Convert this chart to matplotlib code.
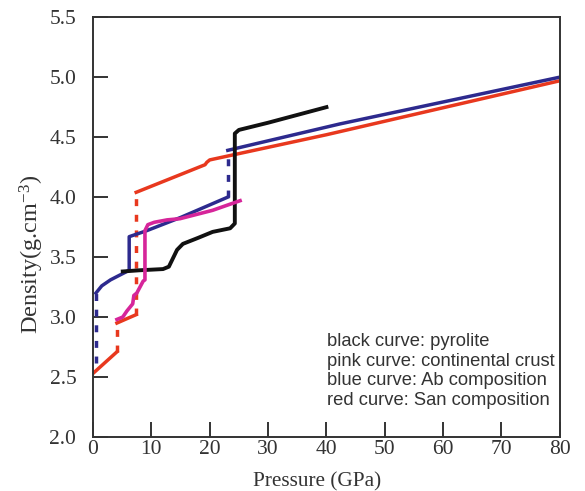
import matplotlib.pyplot as plt

plt.rcParams['mathtext.fontset'] = 'custom'
plt.rcParams['mathtext.rm'] = 'Liberation Serif'
plt.rcParams['mathtext.it'] = 'Liberation Serif'

# density profiles (pressure in GPa, density in g/cm3)
black_p = [5.1, 8.0, 12.0, 13.0, 13.6, 14.4, 15.4, 18.0, 20.5, 23.5, 24.3, 24.3, 25.0, 30.0, 40.0]
black_d = [3.38, 3.39, 3.40, 3.42, 3.48, 3.56, 3.61, 3.66, 3.71, 3.74, 3.78, 4.53, 4.56, 4.62, 4.75]

pink_p = [4.1, 5.1, 5.8, 6.8, 7.0, 7.5, 8.6, 8.9, 8.9, 9.4, 10.5, 12.7, 14.9, 20.5, 25.2]
pink_d = [2.98, 3.00, 3.05, 3.11, 3.18, 3.20, 3.30, 3.31, 3.72, 3.77, 3.79, 3.81, 3.82, 3.89, 3.97]

blue_p1 = [0.5, 1.5, 3.0, 5.0, 6.2, 6.2, 9.2, 15.0, 23.1]
blue_d1 = [3.20, 3.26, 3.31, 3.36, 3.39, 3.67, 3.72, 3.83, 4.00]
blue_p2 = [23.1, 42.3, 80.0]
blue_d2 = [4.39, 4.61, 5.00]
blue_jump_p = [[0.5, 0.5], [23.1, 23.1]]
blue_jump_d = [[2.62, 3.20], [4.00, 4.39]]

red_p1 = [0.0, 4.1]
red_d1 = [2.53, 2.71]
red_p2 = [4.1, 5.5, 7.4]
red_d2 = [2.95, 2.98, 3.02]
red_p3 = [7.4, 19.2, 19.5, 20.0, 40.0, 80.0]
red_d3 = [4.04, 4.27, 4.29, 4.31, 4.52, 4.97]
red_jump_p = [[4.1, 4.1], [7.4, 7.4]]
red_jump_d = [[2.71, 2.95], [3.02, 4.04]]

legend_lines = ['black curve: pyrolite', 'pink curve: continental crust',
                'blue curve: Ab composition', 'red curve: San composition']

c_black = '#111111'
c_pink = '#d6259a'
c_blue = '#2d2a8e'
c_red = '#e8381e'
c_axis = '#333333'

fig = plt.figure(figsize=(5.85, 4.91), dpi=100)
ax = fig.add_axes([0.159, 0.110, 0.798, 0.855])

lw = 2.5
ax.plot(red_p1, red_d1, color=c_red, lw=lw)
ax.plot(red_p2, red_d2, color=c_red, lw=lw)
ax.plot(red_p3, red_d3, color=c_red, lw=lw)
for p, d in zip(red_jump_p, red_jump_d):
    ax.plot(p, d, color=c_red, lw=lw, ls=(0, (2, 2.5)))

ax.plot(blue_p1, blue_d1, color=c_blue, lw=lw)
ax.plot(blue_p2, blue_d2, color=c_blue, lw=lw)
for p, d in zip(blue_jump_p, blue_jump_d):
    ax.plot(p, d, color=c_blue, lw=lw, ls=(0, (2, 2.5)))

ax.plot(black_p, black_d, color=c_black, lw=2.8)
ax.plot(pink_p, pink_d, color=c_pink, lw=2.6)

ax.set_xlim(0, 80)
ax.set_ylim(2.0, 5.5)
ax.set_xticks(range(0, 81, 10))
ax.set_yticks([2.0, 2.5, 3.0, 3.5, 4.0, 4.5, 5.0, 5.5])
ax.set_yticklabels(['2.0', '2.5', '3.0', '3.5', '4.0', '4.5', '5.0', '5.5'])

for s in ax.spines.values():
    s.set_linewidth(1.4)
    s.set_color(c_axis)
ax.tick_params(direction='in', length=11, width=1.4, color=c_axis,
               labelsize=15.5, labelcolor=c_axis)
ax.tick_params(axis='x', pad=2)
ax.tick_params(axis='y', pad=12)
for lab in ax.get_xticklabels() + ax.get_yticklabels():
    lab.set_fontfamily('Liberation Serif')

ax.set_xlabel('Pressure (GPa)', fontfamily='Liberation Serif', fontsize=15.3,
              color=c_axis)
ax.xaxis.set_label_coords(0.48, -0.085)
ax.set_ylabel(r'Density(g.cm$^{-3}$)', fontfamily='Liberation Serif', fontsize=17.5,
              color=c_axis)
ax.yaxis.set_label_coords(-0.10, 0.436)

ax.text(0.501, 0.247, '\n'.join(legend_lines), transform=ax.transAxes,
        fontfamily='Liberation Sans', fontsize=13.2, color=c_axis,
        va='top', ha='left', linespacing=1.2)

fig.savefig('out.png', dpi=100)
